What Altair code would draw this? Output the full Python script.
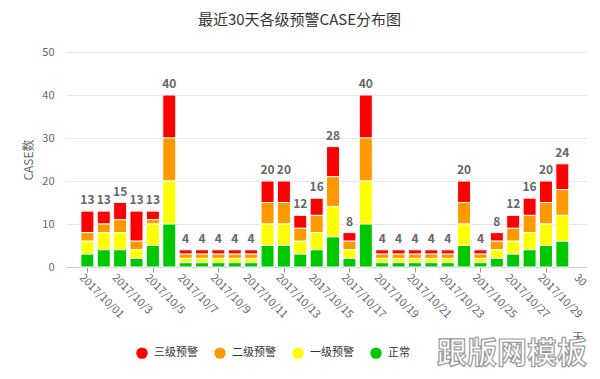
import altair as alt
import pandas as pd

# ---- data ----
days = list(range(1, 31))
series = ["三级预警", "二级预警", "一级预警", "正常"]
colors = ["#ff0000", "#ff9900", "#ffff00", "#00c800"]

level3 = [5, 3, 4, 7, 2, 10, 1, 1, 1, 1, 1, 5, 5, 3, 4, 7, 2, 10, 1, 1, 1, 1, 1, 5, 1, 2, 3, 4, 5, 6]
level2 = [2, 2, 3, 2, 1, 10, 1, 1, 1, 1, 1, 5, 5, 3, 4, 7, 2, 10, 1, 1, 1, 1, 1, 5, 1, 2, 3, 4, 5, 6]
level1 = [3, 4, 4, 2, 5, 10, 1, 1, 1, 1, 1, 5, 5, 3, 4, 7, 2, 10, 1, 1, 1, 1, 1, 5, 1, 2, 3, 4, 5, 6]
normal = [3, 4, 4, 2, 5, 10, 1, 1, 1, 1, 1, 5, 5, 3, 4, 7, 2, 10, 1, 1, 1, 1, 1, 5, 1, 2, 3, 4, 5, 6]

tick_values = [1, 3, 5, 7, 9, 11, 13, 15, 17, 19, 21, 23, 25, 27, 29, 31.2]
tick_labels = ["2017/10/01", "2017/10/3", "2017/10/5", "2017/10/7", "2017/10/9",
               "2017/10/11", "2017/10/13", "2017/10/15", "2017/10/17", "2017/10/19",
               "2017/10/21", "2017/10/23", "2017/10/25", "2017/10/27", "2017/10/29", "30"]
y_ticks = [0, 10, 20, 30, 40, 50]

FONT = "Noto Sans CJK SC"

# ---- tables ----
rows = []
for name, vals in zip(series, [level3, level2, level1, normal]):
    rank = 3 - series.index(name)
    for d, v in zip(days, vals):
        rows.append({"day": d, "series": name, "value": v, "rank": rank})
df = pd.DataFrame(rows)

totals = pd.DataFrame({
    "day": days,
    "total": [a + b + c + e for a, b, c, e in zip(level3, level2, level1, normal)],
})

ticks_df = pd.DataFrame({"pos": tick_values, "lab": tick_labels})

x_scale = alt.Scale(domain=[0, 31.2], nice=False, zero=False)
y_scale = alt.Scale(domain=[0, 50], nice=False)

bars = alt.Chart(df).mark_bar(size=13, stroke="white", strokeWidth=1).encode(
    x=alt.X("day:Q", scale=x_scale, title=None,
            axis=alt.Axis(values=tick_values, labels=False, tickSize=5,
                          tickColor="#999999", domainColor="#cccccc", grid=False)),
    y=alt.Y("value:Q", stack="zero", scale=y_scale, title="CASE数",
            axis=alt.Axis(values=y_ticks, ticks=False, domain=False, labelPadding=12,
                          labelColor="#666666", labelFontSize=11, labelFont=FONT,
                          gridColor="#e6e6e6", titleColor="#666666", titleFontSize=12,
                          titleFont=FONT, titleFontWeight="normal", titlePadding=6)),
    color=alt.Color("series:N", scale=alt.Scale(domain=series, range=colors),
                    legend=alt.Legend(title=None, orient="none", legendX=70, legendY=295,
                                      direction="horizontal", symbolType="circle",
                                      symbolSize=130, symbolStrokeWidth=0,
                                      labelFontSize=11, labelColor="#333333",
                                      labelFont=FONT, columnPadding=16, labelOffset=6,
                                      gridAlign="all")),
    order=alt.Order("rank:Q", sort="ascending"),
)

labels = alt.Chart(totals).mark_text(
    baseline="bottom", dy=-4, fontWeight="bold", fontSize=12, color="#666666", font=FONT
).encode(
    x=alt.X("day:Q", scale=x_scale),
    y=alt.Y("total:Q", scale=y_scale, title="CASE数"),
    text="total:Q",
)

xlabels = alt.Chart(ticks_df).mark_text(
    angle=45, align="left", baseline="top", fontSize=11, color="#666666", font=FONT, dx=-3
).encode(
    x=alt.X("pos:Q", scale=x_scale),
    y=alt.value(222),
    text="lab:N",
)

x_name = alt.Chart(pd.DataFrame({"t": ["天"]})).mark_text(
    fontSize=11, color="#666666", font=FONT
).encode(text="t:N", x=alt.value(512), y=alt.value(286))

watermark = alt.Chart(pd.DataFrame({"t": ["跟版网模板"]})).mark_text(
    fontSize=30, fontWeight="bold", fill="white", stroke="#9a9a9a", strokeWidth=1.2, font=FONT
).encode(text="t:N", x=alt.value(446), y=alt.value(302))

chart = alt.layer(bars, labels, xlabels, x_name, watermark).properties(
    width=521,
    height=215,
    autosize=alt.AutoSizeParams(type="none"),
    padding={"left": 58, "top": 44, "right": 5, "bottom": 104},
    title=alt.TitleParams("最近30天各级预警CASE分布图", fontSize=15, fontWeight="normal",
                          color="#333333", font=FONT, anchor="middle", dx=-27, offset=18),
).configure_view(stroke=None)

chart.save("out.html", embed_options={"renderer": "svg", "actions": False})
